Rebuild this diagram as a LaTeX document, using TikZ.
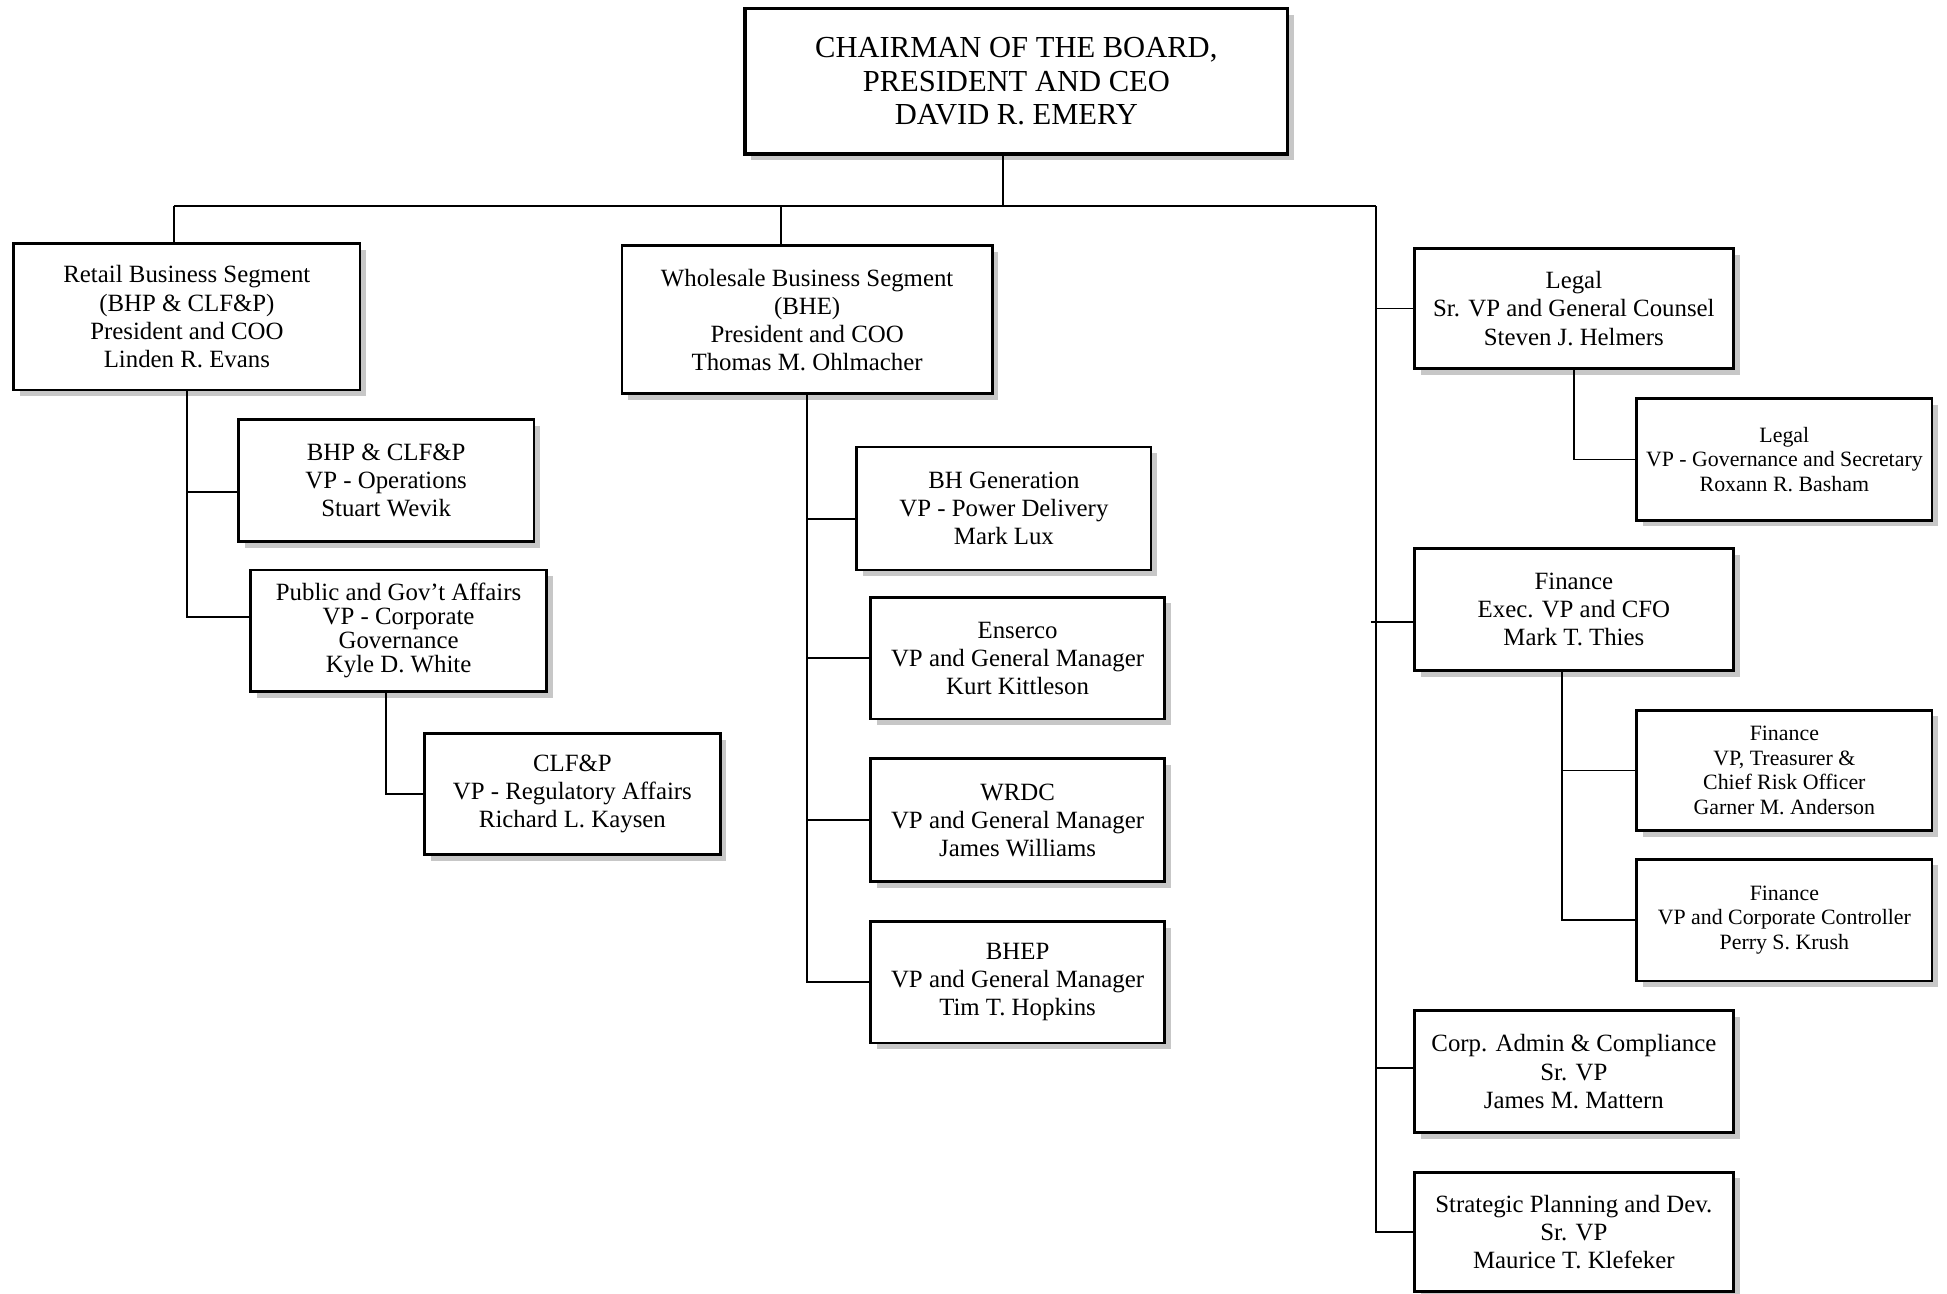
\documentclass[tikz,border=0pt]{standalone}
\usepackage{fontspec}
\setmainfont{Liberation Serif}
\usetikzlibrary{shadows}
\tikzset{
	orgbox/.style={draw,line width=1.1pt,fill=white,align=center,inner sep=0pt,
		font=\fontsize{10}{11.3}\selectfont,
		general shadow={fill=black!22,shadow xshift=2.5pt,shadow yshift=-2.5pt}},
	smallbox/.style={orgbox,font=\fontsize{8.8}{10}\selectfont},
	wh/.style 2 args={minimum width=#1*0.5pt,minimum height=#2*0.5pt},
	conn/.style={line width=0.7pt}
}
\begin{document}
\begin{tikzpicture}[x=0.5pt,y=-0.5pt]
	\useasboundingbox (0,0) rectangle (1568,1042);
	% top
	\node[orgbox,wh={437}{117},line width=1.3pt,font=\fontsize{12.3}{13.5}\selectfont] (chair) at (818.5,65.5) {CHAIRMAN OF THE BOARD,\\PRESIDENT AND CEO\\DAVID R. EMERY};
	% retail
	\node[orgbox,wh={279}{118}] (retail) at (150.5,255) {Retail Business Segment\\(BHP \& CLF\&P)\\President and COO\\Linden R. Evans};
	\node[orgbox,wh={238}{98}] (bhp) at (311,387) {BHP \& CLF\&P\\VP - Operations\\Stuart Wevik};
	\node[orgbox,wh={238}{98},font=\fontsize{10}{9.7}\selectfont] (pubaff) at (321,508) {Public and Gov't Affairs\\VP - Corporate\\Governance\\Kyle D. White};
	\node[orgbox,wh={238}{97}] (clfp) at (461,639.5) {CLF\&P\\VP - Regulatory Affairs\\Richard L. Kaysen};
	% wholesale
	\node[orgbox,wh={298}{119}] (whole) at (650,257.5) {Wholesale Business Segment\\(BHE)\\President and COO\\Thomas M. Ohlmacher};
	\node[orgbox,wh={237}{99}] (bhgen) at (808.5,409.5) {BH Generation\\VP - Power Delivery\\Mark Lux};
	\node[orgbox,wh={237}{98}] (enserco) at (819.5,530) {Enserco\\VP and General Manager\\Kurt Kittleson};
	\node[orgbox,wh={237}{99}] (wrdc) at (819.5,660.5) {WRDC\\VP and General Manager\\James Williams};
	\node[orgbox,wh={237}{98}] (bhep) at (819.5,791) {BHEP\\VP and General Manager\\Tim T. Hopkins};
	% staff
	\node[orgbox,wh={257}{97}] (legal) at (1267.5,248.5) {Legal\\Sr. VP and General Counsel\\Steven J. Helmers};
	\node[smallbox,wh={238}{98}] (govsec) at (1437,370) {Legal\\VP - Governance and Secretary\\Roxann R. Basham};
	\node[orgbox,wh={257}{98}] (finance) at (1267.5,491) {Finance\\Exec. VP and CFO\\Mark T. Thies};
	\node[smallbox,wh={238}{97}] (treas) at (1437,620.5) {Finance\\VP, Treasurer \&\\Chief Risk Officer\\Garner M. Anderson};
	\node[smallbox,wh={238}{98}] (control) at (1437,741) {Finance\\VP and Corporate Controller\\Perry S. Krush};
	\node[orgbox,wh={257}{98}] (corpadm) at (1267.5,863) {Corp. Admin \& Compliance\\Sr. VP\\James M. Mattern};
	\node[orgbox,wh={257}{96}] (strat) at (1267.5,992) {Strategic Planning and Dev.\\Sr. VP\\Maurice T. Klefeker};
	% bus
	\coordinate (rdrop) at (140,166);
	\coordinate (wdrop) at (629,166);
	\coordinate (cdrop) at (808,166);
	\coordinate (sdrop) at (1108,166);
	\draw[conn] (rdrop) -- (sdrop);
	\draw[conn] (cdrop) -- (cdrop |- chair.south);
	\draw[conn] (rdrop) -- (rdrop |- retail.north);
	\draw[conn] (wdrop) -- (wdrop |- whole.north);
	\draw[conn] (retail.south) |- ([yshift=5.5pt]pubaff.west);
	\draw[conn] (retail.south |- bhp.west) ++(0,9) -- ([yshift=-4.5pt]bhp.west);
	\draw[conn] ([xshift=-5pt]pubaff.south) |- (clfp.west);
	\draw[conn] (whole.south) |- (bhep.west);
	\draw[conn] (whole.south |- bhgen.west) ++(0,8.5) -- ([yshift=-4.25pt]bhgen.west);
	\draw[conn] (whole.south |- enserco.west) -- (enserco.west);
	\draw[conn] (whole.south |- wrdc.west) -- (wrdc.west);
	\draw[conn] (sdrop) |- (strat.west);
	\draw[conn] (sdrop |- legal.west) -- (legal.west);
	\draw[conn] (sdrop |- finance.west) ++(-4,10) -- ([yshift=-5pt]finance.west);
	\draw[conn] (sdrop |- corpadm.west) ++(0,-3) -- ([yshift=1.5pt]corpadm.west);
	\draw[conn] (legal.south) |- (govsec.west);
	\draw[conn] ([xshift=-4.75pt]finance.south) |- (control.west);
	\draw[conn] ([xshift=-4.75pt]finance.south |- treas.west) -- (treas.west);
\end{tikzpicture}
\end{document}
